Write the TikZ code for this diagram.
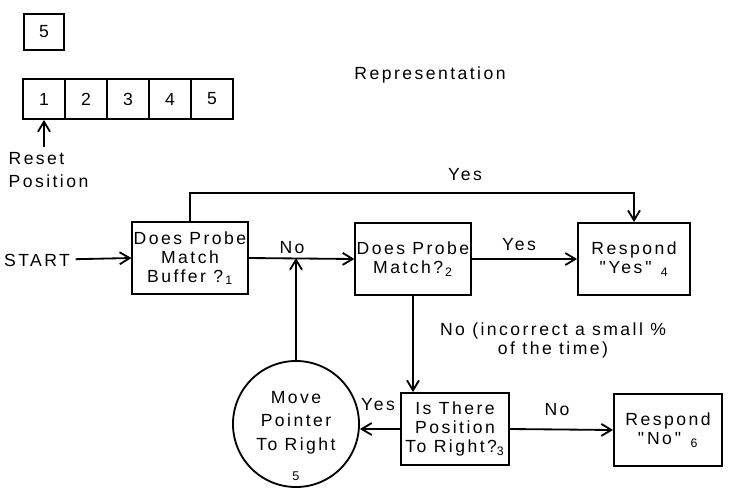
\documentclass[tikz,border=0pt]{standalone}
\usepackage{fontspec}
\setmainfont{Liberation Sans}[LetterSpace=14, Ligatures=TeXOff]
\usetikzlibrary{arrows.meta, positioning, calc}

\begin{document}
\begin{tikzpicture}[
        x=0.025cm, y=-0.025cm,
        >={Straight Barb[length=2.5mm,width=3mm]},
        line width=1.3pt,
        font=\fontsize{12.5}{13.5}\selectfont,
        % cajas del diagrama de flujo
        stepbox/.style={draw, rectangle, align=center, inner sep=1pt, minimum width=2.8cm, minimum height=1.8cm},
        cellbox/.style={draw, rectangle, minimum width=1.05cm, minimum height=1cm},
        flow/.style={->}
    ]
        \useasboundingbox (0,0) rectangle (744,496);

        % Probe y buffer
        \node[draw, rectangle, minimum width=1cm, minimum height=0.92cm] (probe) at (44,32) {5};
        \foreach \n in {1,...,5}
            \node[cellbox] (cell\n) at ({44+42*(\n-1)},99) {\n};
        \node[align=left, anchor=west, font=\fontsize{12.5}{16}\selectfont] (reset) at (3,170) {Reset\\Position};
        \draw[flow] (reset.north -| cell1) -- (cell1.south);
        \node (repr) at (430,75) {Representation};

        % Pasos del proceso
        \node (start) at (37,260) {START};
        \node[stepbox] (match1) at (190,258) {Does Probe\\Match\\Buffer ?\textsubscript{\,1}};
        \node[stepbox] (match2) at (413,259) {Does Probe\\Match?\textsubscript{\,2}};
        \node[stepbox] (yes) at (634,259) {Respond\\"\,Yes\," \textsubscript{\,4}};
        \node[stepbox, minimum width=2.7cm] (right) at (455,429) {Is There\\Position\\To Right?\textsubscript{3}};
        \node[stepbox, minimum width=2.7cm] (no) at (668,430) {Respond\\"\,No\," \textsubscript{\,6}};
        \node[draw, circle, minimum size=3.15cm] (move) at (296,424) {};
        \node[align=center] (movetext) at (296,436)
            {Move\\[3pt]Pointer\\[3pt]To Right\\[8pt]{\small 5}};

        % Conexiones
        \coordinate (top) at (400,193);
        \coordinate (join) at (move.north |- match1.east);
        \draw[flow] (start) -- (match1.west);
        \draw[flow] (match1.east) -- (match2.west);
        \draw[flow] (move.north) -- (join);
        \draw[flow] (match1.north) |- (top) -| (yes.north);
        \draw[flow] (match2.east) -- (yes.west);
        \draw[flow] (match2.south) -- (match2.south |- right.north);
        \draw[flow] (right.west) -- (move.east |- right.west);
        \draw[flow] (right.east) -- (no.west);

        % Etiquetas
        \node at (465,175) {Yes};
        \node at (292,248) {No};
        \node at (519,245) {Yes};
        \node[align=center] at (553,340) {No (incorrect a small \%\\of the time)};
        \node at (378,405) {Yes};
        \node at (557,410) {No};
    \end{tikzpicture}
\end{document}
